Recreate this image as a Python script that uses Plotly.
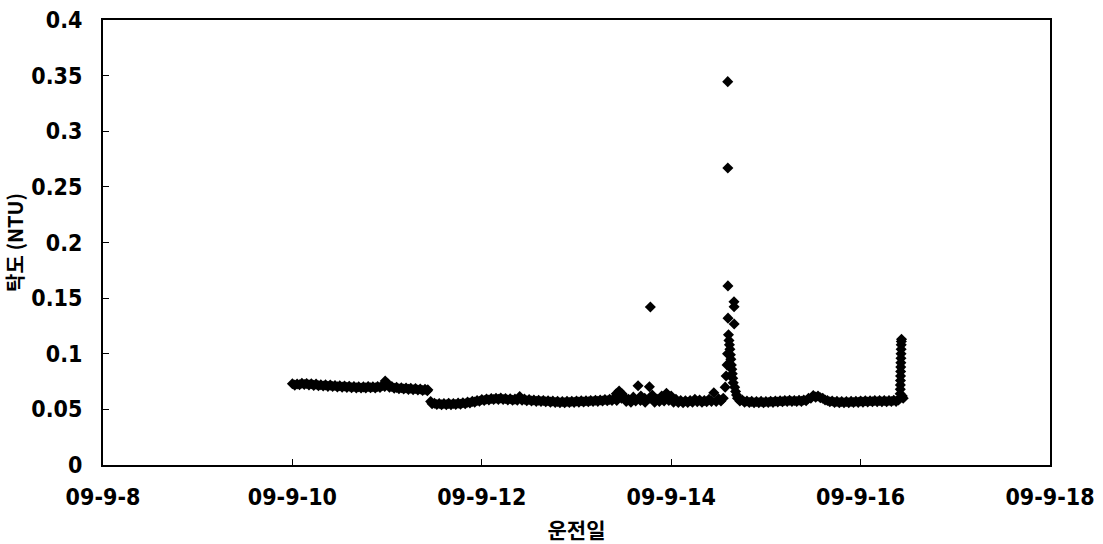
import pandas as pd
import plotly.graph_objects as go

# ---- data (day of September 2009, turbidity NTU) ----
day_a = [10.00, 10.05, 10.10, 10.15, 10.20, 10.25, 10.30, 10.35, 10.40, 10.45,
         10.50, 10.55, 10.60, 10.65, 10.70, 10.75, 10.80, 10.85, 10.90, 10.95,
         10.98, 11.01, 11.05, 11.10, 11.15, 11.20, 11.25, 11.30, 11.35, 11.40, 11.43]
ntu_a = [0.0730, 0.0728, 0.0735, 0.0733, 0.0730, 0.0727, 0.0722, 0.0720, 0.0718, 0.0715,
         0.0712, 0.0710, 0.0708, 0.0706, 0.0703, 0.0702, 0.0705, 0.0703, 0.0706, 0.0715,
         0.0755, 0.0728, 0.0705, 0.0698, 0.0695, 0.0692, 0.0690, 0.0688, 0.0684, 0.0680, 0.0676]
day_a2 = [10.025, 10.075, 10.125, 10.175, 10.225, 10.275, 10.325, 10.375, 10.425, 10.475,
          10.525, 10.575, 10.625, 10.675, 10.725, 10.775, 10.825, 10.875, 10.925, 10.975,
          11.025, 11.075, 11.125, 11.175, 11.225, 11.275, 11.325, 11.375, 11.425]
ntu_a2 = [0.0718, 0.0722, 0.0724, 0.0720, 0.0716, 0.0712, 0.0710, 0.0707, 0.0705, 0.0702,
          0.0700, 0.0698, 0.0695, 0.0693, 0.0692, 0.0693, 0.0694, 0.0693, 0.0696, 0.0705,
          0.0700, 0.0690, 0.0686, 0.0683, 0.0680, 0.0677, 0.0674, 0.0670, 0.0668]

day_b = [11.46, 11.50, 11.55, 11.60, 11.65, 11.70, 11.75, 11.80, 11.85, 11.90,
         11.95, 12.00, 12.05, 12.10, 12.15, 12.20, 12.25, 12.30, 12.35, 12.40,
         12.45, 12.50, 12.55, 12.60, 12.65, 12.70, 12.75, 12.80, 12.85, 12.90,
         12.95, 13.00, 13.05, 13.10, 13.15, 13.20, 13.25, 13.30, 13.35, 13.40]
ntu_b = [0.0570, 0.0555, 0.0553, 0.0552, 0.0554, 0.0553, 0.0556, 0.0560, 0.0565, 0.0572,
         0.0580, 0.0588, 0.0593, 0.0598, 0.0600, 0.0602, 0.0598, 0.0595, 0.0592, 0.0615,
         0.0592, 0.0588, 0.0585, 0.0582, 0.0580, 0.0578, 0.0575, 0.0572, 0.0570, 0.0572,
         0.0573, 0.0575, 0.0577, 0.0578, 0.0580, 0.0582, 0.0585, 0.0588, 0.0590, 0.0600]
day_b2 = [11.475, 11.525, 11.575, 11.625, 11.675, 11.725, 11.775, 11.825, 11.875, 11.925,
          11.975, 12.025, 12.075, 12.125, 12.175, 12.225, 12.275, 12.325, 12.375, 12.425,
          12.475, 12.525, 12.575, 12.625, 12.675, 12.725, 12.775, 12.825, 12.875, 12.925,
          12.975, 13.025, 13.075, 13.125, 13.175, 13.225, 13.275, 13.325, 13.375]
ntu_b2 = [0.0550, 0.0543, 0.0541, 0.0542, 0.0541, 0.0543, 0.0546, 0.0551, 0.0557, 0.0565,
          0.0573, 0.0580, 0.0585, 0.0588, 0.0590, 0.0588, 0.0585, 0.0582, 0.0583, 0.0582,
          0.0578, 0.0575, 0.0572, 0.0570, 0.0568, 0.0565, 0.0562, 0.0560, 0.0560, 0.0561,
          0.0563, 0.0565, 0.0566, 0.0568, 0.0570, 0.0572, 0.0575, 0.0577, 0.0580]

day_c = [13.42, 13.45, 13.48, 13.52, 13.55, 13.60, 13.65, 13.68, 13.72, 13.77,
         13.78, 13.80, 13.85, 13.90, 13.95, 14.00, 14.05, 14.10, 14.15, 14.20,
         14.25, 14.30, 14.35, 14.40, 14.45, 14.50, 14.55]
ntu_c = [0.0640, 0.0665, 0.0640, 0.0600, 0.0590, 0.0610, 0.0713, 0.0620, 0.0600, 0.0704,
         0.1420, 0.0630, 0.0590, 0.0620, 0.0645, 0.0620, 0.0590, 0.0580, 0.0578, 0.0580,
         0.0590, 0.0585, 0.0580, 0.0590, 0.0650, 0.0595, 0.0600]
day_c2 = [13.425, 13.475, 13.525, 13.575, 13.625, 13.675, 13.725, 13.775, 13.825, 13.875,
          13.925, 13.975, 14.025, 14.075, 14.125, 14.175, 14.225, 14.275, 14.325, 14.375,
          14.425, 14.475, 14.525]
ntu_c2 = [0.0580, 0.0600, 0.0570, 0.0565, 0.0575, 0.0580, 0.0565, 0.0600, 0.0565, 0.0570,
          0.0575, 0.0580, 0.0565, 0.0562, 0.0560, 0.0562, 0.0565, 0.0568, 0.0565, 0.0568,
          0.0572, 0.0570, 0.0575]

day_spike = [14.570, 14.580, 14.590, 14.595, 14.597, 14.598, 14.599, 14.600, 14.605, 14.610,
             14.615, 14.620, 14.625, 14.630, 14.635, 14.640, 14.645, 14.650, 14.655, 14.663,
             14.664, 14.665, 14.670, 14.680, 14.690, 14.700]
ntu_spike = [0.0700, 0.0800, 0.0900, 0.1000, 0.3446, 0.2670, 0.1610, 0.1320, 0.1170, 0.1120,
             0.1080, 0.1040, 0.0990, 0.0950, 0.0900, 0.0860, 0.0820, 0.0780, 0.0740, 0.1468,
             0.1423, 0.1267, 0.0700, 0.0660, 0.0630, 0.0600]

day_d = [14.75, 14.80, 14.85, 14.90, 14.95, 15.00, 15.05, 15.10, 15.15, 15.20,
         15.25, 15.30, 15.35, 15.40, 15.45, 15.50, 15.55, 15.60, 15.65, 15.70,
         15.75, 15.80, 15.85, 15.90, 15.95, 16.00, 16.05, 16.10, 16.15, 16.20,
         16.25, 16.30, 16.35, 16.40]
ntu_d = [0.0585, 0.0575, 0.0572, 0.0570, 0.0572, 0.0570, 0.0573, 0.0575, 0.0578, 0.0580,
         0.0582, 0.0580, 0.0582, 0.0585, 0.0600, 0.0625, 0.0620, 0.0600, 0.0580, 0.0575,
         0.0572, 0.0570, 0.0570, 0.0572, 0.0573, 0.0575, 0.0577, 0.0578, 0.0580, 0.0580,
         0.0580, 0.0580, 0.0582, 0.0585]
day_d2 = [14.725, 14.775, 14.825, 14.875, 14.925, 14.975, 15.025, 15.075, 15.125, 15.175,
          15.225, 15.275, 15.325, 15.375, 15.425, 15.475, 15.525, 15.575, 15.625, 15.675,
          15.725, 15.775, 15.825, 15.875, 15.925, 15.975, 16.025, 16.075, 16.125, 16.175,
          16.225, 16.275, 16.325, 16.375]
ntu_d2 = [0.0575, 0.0565, 0.0562, 0.0560, 0.0560, 0.0560, 0.0562, 0.0563, 0.0566, 0.0568,
          0.0570, 0.0570, 0.0570, 0.0572, 0.0578, 0.0600, 0.0610, 0.0605, 0.0585, 0.0568,
          0.0562, 0.0560, 0.0560, 0.0560, 0.0562, 0.0563, 0.0565, 0.0566, 0.0568, 0.0568,
          0.0568, 0.0568, 0.0570, 0.0572]

day_e = [16.415, 16.418, 16.419, 16.420, 16.421, 16.422, 16.423, 16.424, 16.425, 16.426,
         16.427, 16.428, 16.429, 16.430, 16.432, 16.440, 16.450]
ntu_e = [0.0600, 0.0640, 0.0680, 0.0720, 0.0760, 0.0800, 0.0840, 0.0880, 0.0920, 0.0960,
         0.1000, 0.1040, 0.1080, 0.1110, 0.1130, 0.0620, 0.0600]

x_ticks = ["2009-09-08", "2009-09-10", "2009-09-12", "2009-09-14", "2009-09-16", "2009-09-18"]
x_labels = ["09-9-8", "09-9-10", "09-9-12", "09-9-14", "09-9-16", "09-9-18"]
y_ticks = [0, 0.05, 0.1, 0.15, 0.2, 0.25, 0.3, 0.35, 0.4]
y_labels = ["0", "0.05", "0.1", "0.15", "0.2", "0.25", "0.3", "0.35", "0.4"]

days = day_a + day_a2 + day_b + day_b2 + day_c + day_c2 + day_spike + day_d + day_d2 + day_e
vals = ntu_a + ntu_a2 + ntu_b + ntu_b2 + ntu_c + ntu_c2 + ntu_spike + ntu_d + ntu_d2 + ntu_e
base = pd.Timestamp("2009-09-01")
times = [base + pd.Timedelta(days=d - 1) for d in days]

FONT = "DejaVu Sans Condensed, Liberation Sans Narrow, Roboto, sans-serif"
KFONT = "Noto Sans CJK KR"

fig = go.Figure()
fig.add_trace(go.Scatter(
    x=times, y=vals, mode="markers",
    marker=dict(symbol="diamond", size=8.5, color="black", line=dict(width=0)),
    showlegend=False,
))

fig.update_layout(
    width=1103, height=544,
    margin=dict(l=103, r=53, t=20, b=79),
    paper_bgcolor="white", plot_bgcolor="white",
    font=dict(family=FONT, size=23, color="black", weight="bold"),
    xaxis=dict(
        type="date", range=["2009-09-08", "2009-09-18"],
        tickmode="array", tickvals=x_ticks, ticktext=x_labels,
        ticks="inside", ticklen=6, tickwidth=1, tickcolor="black",
        showline=True, linecolor="black", linewidth=2, mirror=True,
        showgrid=False, zeroline=False, automargin=False,
        tickfont=dict(family=FONT, size=23, weight="bold"),
        ticklabelstandoff=10,
        title=dict(text="운전일", font=dict(family=KFONT, size=21, weight="bold"), standoff=16),
    ),
    yaxis=dict(
        range=[0, 0.4],
        tickmode="array", tickvals=y_ticks, ticktext=y_labels,
        ticks="inside", ticklen=6, tickwidth=1, tickcolor="black",
        showline=True, linecolor="black", linewidth=2, mirror=True,
        showgrid=False, zeroline=False, automargin=False,
        tickfont=dict(family=FONT, size=23, weight="bold"),
        ticklabelstandoff=14,
        title=dict(text="탁도 (NTU)", font=dict(family=KFONT, size=20, weight="bold"), standoff=8),
    ),
)

fig.write_html("out.html")
